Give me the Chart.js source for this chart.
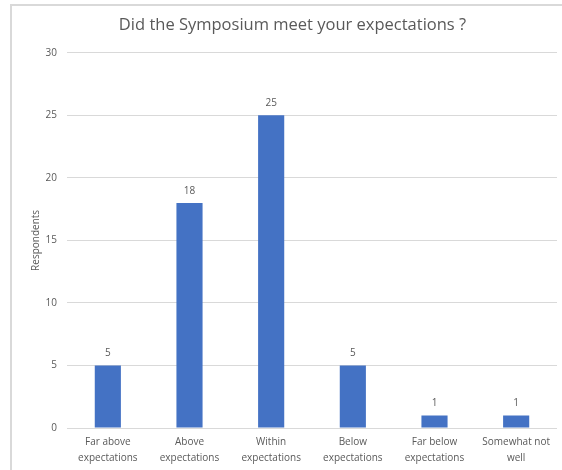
<!DOCTYPE html>
<html lang="en">
<head>
    <meta charset="UTF-8">
    <title>Did the Symposium meet your expectations ?</title>
    <script src="https://cdn.jsdelivr.net/npm/chart.js"></script>
    <style>
        body {
            margin: 0;
            padding: 0;
            background-color: #fff;
            overflow: hidden;
        }

        /* the chart frame runs off the right and bottom edge, as in the original */
        .chart-box {
            position: absolute;
            left: 10px;
            top: 4px;
            width: 570px;
            height: 480px;
            border: 2px solid #d9d9d9;
            box-sizing: border-box;
        }
    </style>
</head>
<body>
    <div class="chart-box">
        <canvas id="respChart"></canvas>
    </div>

    <script>
        const categories = [
            ['Far above', 'expectations'],
            ['Above', 'expectations'],
            ['Within', 'expectations'],
            ['Below', 'expectations'],
            ['Far below', 'expectations'],
            ['Somewhat not', 'well']
        ];
        const respondents = [5, 18, 25, 5, 1, 1];
        const yTicks = [0, 5, 10, 15, 20, 25, 30];

        const textColor = '#595959';
        const fontFamily = "'Open Sans', 'Noto Sans', sans-serif";

        // draws the value above each bar
        const valueLabels = {
            id: 'valueLabels',
            afterDatasetsDraw(chart) {
                const ctx = chart.ctx;
                const meta = chart.getDatasetMeta(0);
                ctx.save();
                ctx.font = '10px ' + fontFamily;
                ctx.fillStyle = textColor;
                ctx.textAlign = 'center';
                ctx.textBaseline = 'bottom';
                meta.data.forEach((bar, i) => {
                    ctx.fillText(respondents[i], bar.x, bar.y - 7);
                });
                ctx.restore();
            }
        };

        const ctx = document.getElementById('respChart').getContext('2d');
        new Chart(ctx, {
            type: 'bar',
            data: {
                labels: categories,
                datasets: [{
                    label: 'Respondents',
                    data: respondents,
                    backgroundColor: '#4472c4',
                    categoryPercentage: 1,
                    barPercentage: 0.32
                }]
            },
            options: {
                responsive: true,
                maintainAspectRatio: false,
                animation: false,
                layout: {
                    padding: { left: 16, right: 21, top: 9, bottom: 10 }
                },
                plugins: {
                    legend: { display: false },
                    tooltip: { enabled: false },
                    title: {
                        display: true,
                        text: 'Did the Symposium meet your expectations ?',
                        color: textColor,
                        font: { family: fontFamily, size: 16.5, weight: 'normal' },
                        padding: { top: 0, bottom: 18 }
                    }
                },
                scales: {
                    x: {
                        grid: { display: false, drawTicks: false },
                        border: { display: false },
                        ticks: {
                            color: textColor,
                            font: { family: fontFamily, size: 10, lineHeight: 1.6 },
                            maxRotation: 0,
                            autoSkip: false,
                            padding: 6
                        }
                    },
                    y: {
                        min: 0,
                        max: 30,
                        afterBuildTicks(axis) {
                            axis.ticks = yTicks.map(v => ({ value: v }));
                        },
                        // fixed axis width so the plot starts where the original does
                        afterFit(axis) {
                            axis.width = 39;
                        },
                        grid: { color: '#d9d9d9', drawTicks: false },
                        border: { display: false },
                        ticks: {
                            color: textColor,
                            font: { family: fontFamily, size: 10 },
                            padding: 10
                        },
                        title: {
                            display: true,
                            text: 'Respondents',
                            color: textColor,
                            font: { family: fontFamily, size: 10 },
                            padding: { top: 2, bottom: 2 }
                        }
                    }
                }
            },
            plugins: [valueLabels]
        });
    </script>
</body>
</html>
